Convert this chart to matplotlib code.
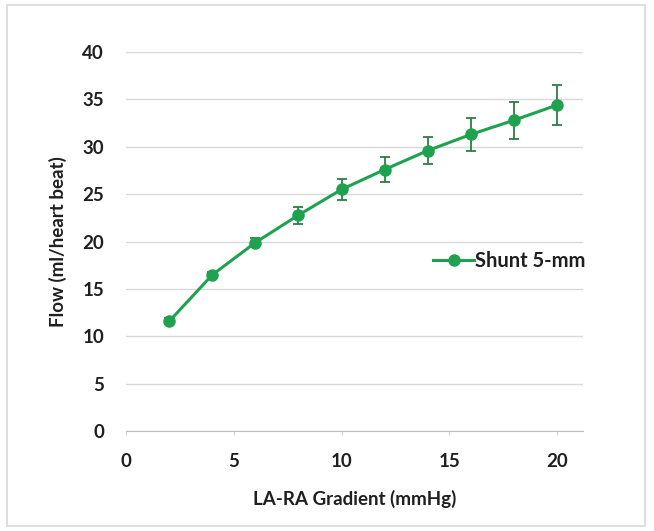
import matplotlib.pyplot as plt
from matplotlib.patches import Rectangle
from matplotlib.lines import Line2D

plt.rcParams['font.family'] = ['Lato', 'DejaVu Sans']

gradient = [2, 4, 6, 8, 10, 12, 14, 16, 18, 20]
flow = [11.6, 16.5, 19.9, 22.8, 25.5, 27.6, 29.6, 31.3, 32.8, 34.4]
flow_err = [0.3, 0.3, 0.5, 0.9, 1.1, 1.3, 1.45, 1.75, 1.95, 2.1]
green = '#1fa24f'
txt = '#1f1f1f'
fs = 13.5

fig = plt.figure(figsize=(6.54, 5.31), dpi=100)
fig.patches.append(Rectangle((0.011, 0.01), 0.975, 0.98, transform=fig.transFigure,
                             fill=False, edgecolor='#d9d9d9', linewidth=1.2))
ax = fig.add_axes([0.193, 0.188, 0.698, 0.714])

ax.errorbar(gradient, flow, yerr=flow_err, color=green, marker='o', markersize=8,
            linewidth=2.2, elinewidth=1.3, ecolor='#2e7d46', capsize=3.5, capthick=1.3)

ax.set_xlim(0, 21.2)
ax.set_ylim(0, 40)
ax.set_xticks([0, 5, 10, 15, 20])
ax.set_yticks(range(0, 41, 5))
ax.yaxis.grid(True, color='#d9d9d9', linewidth=1)
ax.set_axisbelow(True)
for s in ['top', 'right', 'left']:
    ax.spines[s].set_visible(False)
ax.spines['bottom'].set_color('#bfbfbf')
ax.tick_params(axis='y', length=0, pad=16)
ax.tick_params(axis='x', length=3, color='#d0d0d0', pad=13)
for lab in ax.get_xticklabels() + ax.get_yticklabels():
    lab.set_fontsize(fs)
    lab.set_fontweight('bold')
    lab.set_color(txt)

ax.set_xlabel('LA-RA Gradient (mmHg)', fontsize=fs, fontweight='bold', color=txt, labelpad=14)
ax.set_ylabel('Flow (ml/heart beat)', fontsize=fs, fontweight='bold', color=txt, labelpad=11)

handle = Line2D([], [], color=green, marker='o', markersize=8, linewidth=2.2)
leg = ax.legend([handle], ['Shunt 5-mm'], loc='center right', bbox_to_anchor=(1.045, 0.449),
                frameon=False, handlelength=2.0, handletextpad=0.05,
                prop={'weight': 'bold', 'size': fs + 1})
for t in leg.get_texts():
    t.set_color(txt)

fig.savefig('out.png', dpi=100)
